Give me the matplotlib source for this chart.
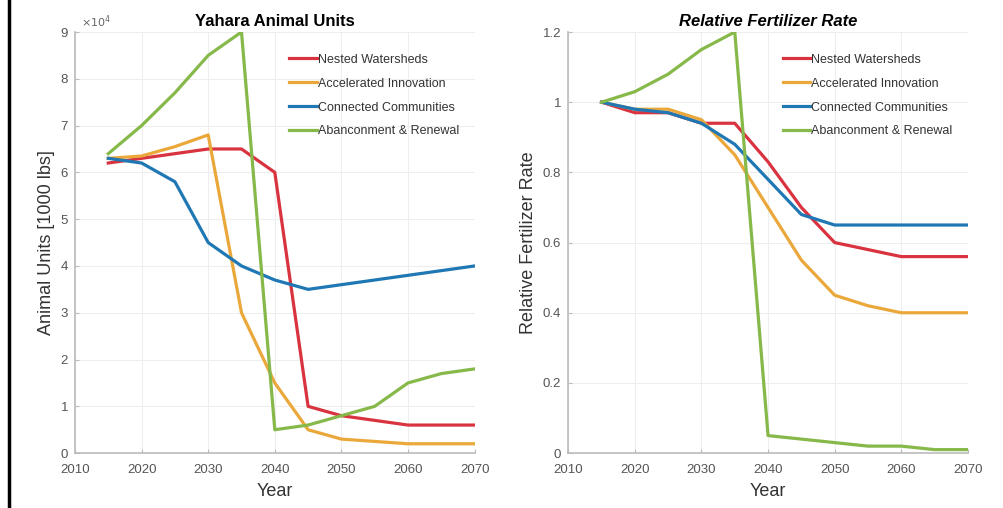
import numpy as np
import matplotlib.pyplot as plt
from matplotlib.lines import Line2D

plt.rcParams['font.family'] = ['Liberation Sans', 'DejaVu Sans']

years = [2015, 2020, 2025, 2030, 2035, 2040, 2045, 2050, 2055, 2060, 2065, 2070]
scenarios = ['Nested Watersheds', 'Accelerated Innovation',
             'Connected Communities', 'Abanconment & Renewal']
colors = ['#d93340', '#eba83a', '#1f78b4', '#86b84a']

# animal units, in units of 1e4
animal_nested = [6.2, 6.3, 6.4, 6.5, 6.5, 6.0, 1.0, 0.8, 0.7, 0.6, 0.6, 0.6]
animal_accel = [6.3, 6.35, 6.55, 6.8, 3.0, 1.5, 0.5, 0.3, 0.25, 0.2, 0.2, 0.2]
animal_conn = [6.3, 6.2, 5.8, 4.5, 4.0, 3.7, 3.5, 3.6, 3.7, 3.8, 3.9, 4.0]
animal_aband = [6.4, 7.0, 7.7, 8.5, 9.0, 0.5, 0.6, 0.8, 1.0, 1.5, 1.7, 1.8]

# relative fertilizer rate
fert_nested = [1.0, 0.97, 0.97, 0.94, 0.94, 0.83, 0.70, 0.60, 0.58, 0.56, 0.56, 0.56]
fert_accel = [1.0, 0.98, 0.98, 0.95, 0.85, 0.70, 0.55, 0.45, 0.42, 0.40, 0.40, 0.40]
fert_conn = [1.0, 0.98, 0.97, 0.94, 0.88, 0.78, 0.68, 0.65, 0.65, 0.65, 0.65, 0.65]
fert_aband = [1.0, 1.03, 1.08, 1.15, 1.20, 0.05, 0.04, 0.03, 0.02, 0.02, 0.01, 0.01]

fig = plt.figure(figsize=(10.04, 5.08), dpi=100)
ax1 = fig.add_axes([0.0747, 0.108, 0.398, 0.829])
ax2 = fig.add_axes([0.566, 0.108, 0.398, 0.829])


def style(ax):
    for s in ['top', 'right']:
        ax.spines[s].set_visible(False)
    for s in ['left', 'bottom']:
        ax.spines[s].set_color('#bbbbbb')
        ax.spines[s].set_linewidth(1.2)
    ax.grid(True, color='#eeeeee', linewidth=0.8)
    ax.set_axisbelow(True)
    ax.tick_params(direction='in', length=3, color='#bbbbbb',
                   labelcolor='#555555', labelsize=9.5)
    ax.tick_params(axis='x', pad=8)
    ax.tick_params(axis='y', pad=5)
    ax.set_xlim(2010, 2070)
    ax.set_xticks(range(2010, 2071, 10))
    ax.set_xlabel('Year', fontsize=13, color='#333333', labelpad=5)


animal = [animal_nested, animal_accel, animal_conn, animal_aband]
for vals, c, name in zip(animal, colors, scenarios):
    ax1.plot(years, vals, color=c, lw=2.3, label=name)
style(ax1)
ax1.set_ylim(0, 9)
ax1.set_yticks(range(0, 10))
ax1.set_ylabel('Animal Units [1000 lbs]', fontsize=13, color='#333333', labelpad=4)
ax1.set_title('Yahara Animal Units', fontsize=12, fontweight='bold', pad=4)
ax1.text(0.015, 1.005, r'$\times10^4$', transform=ax1.transAxes, fontsize=8,
         color='#666666', va='bottom')

fert = [fert_nested, fert_accel, fert_conn, fert_aband]
for vals, c, name in zip(fert, colors, scenarios):
    ax2.plot(years, vals, color=c, lw=2.3, label=name)
style(ax2)
ax2.set_ylim(0, 1.2)
ax2.set_yticks([0, 0.2, 0.4, 0.6, 0.8, 1.0, 1.2])
ax2.set_yticklabels(['0', '0.2', '0.4', '0.6', '0.8', '1', '1.2'])
ax2.set_ylabel('Relative Fertilizer Rate', fontsize=13, color='#333333', labelpad=4)
ax2.set_title('Relative Fertilizer Rate', fontsize=12, fontweight='bold',
              fontstyle='italic', pad=4)

for ax in (ax1, ax2):
    ax.legend(loc='upper right', bbox_to_anchor=(0.99, 0.975), frameon=False,
              fontsize=9, handlelength=2.2, handletextpad=0.1,
              labelspacing=0.95, labelcolor='#333333')

fig.add_artist(Line2D([0.009, 0.009], [0, 1], color='black', lw=2.5,
                      transform=fig.transFigure))

fig.savefig('out.png', dpi=100)
